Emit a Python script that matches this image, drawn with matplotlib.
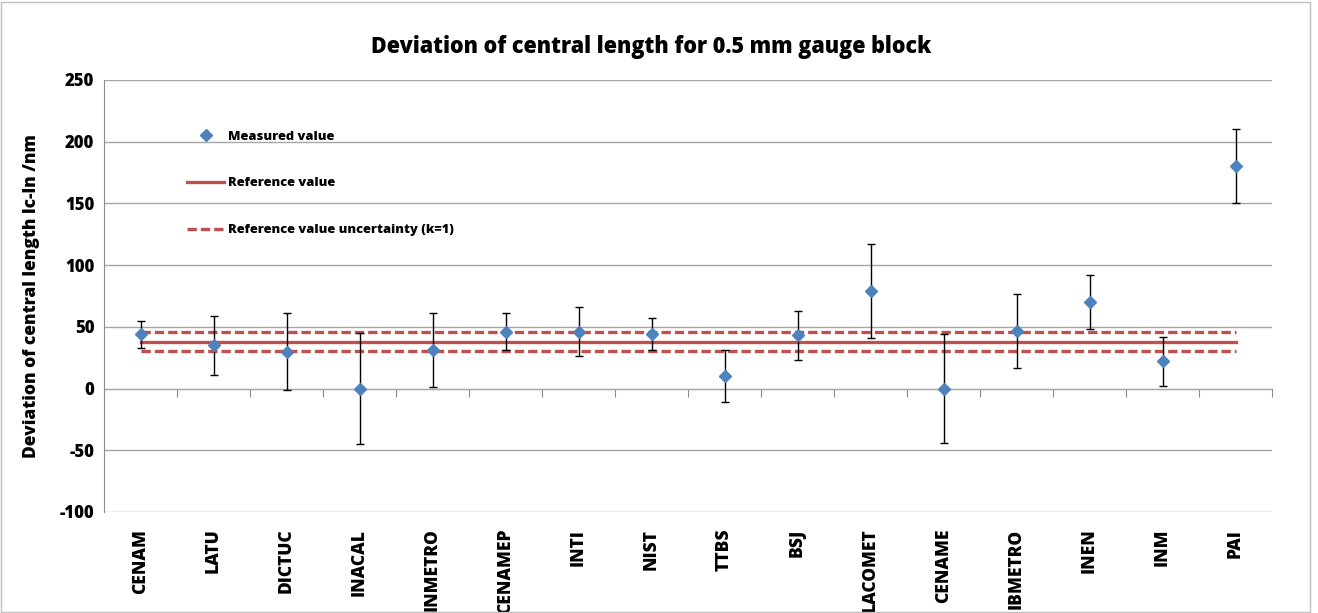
import matplotlib
matplotlib.use("Agg")
import matplotlib.pyplot as plt
import numpy as np
from matplotlib.patches import Rectangle

labs = ["CENAM", "LATU", "DICTUC", "INACAL", "INMETRO", "CENAMEP", "INTI", "NIST",
        "TTBS", "BSJ", "LACOMET", "CENAME", "IBMETRO", "INEN", "INM", "PAI"]
measured = [44, 35, 30, 0, 31, 46, 46, 44, 10, 43, 79, 0, 47, 70, 22, 180]
uncert = [11, 24, 31, 45, 30, 15, 20, 13, 21, 20, 38, 44, 30, 22, 20, 30]
ref_value = 38
ref_unc = 7.5
yticks = [-100, -50, 0, 50, 100, 150, 200, 250]

plt.rcParams['font.family'] = ['Open Sans', 'DejaVu Sans']
plt.rcParams['font.weight'] = 'bold'
W = 800

fig = plt.figure(figsize=(13.18, 6.13), dpi=100)
ax = fig.add_axes([104/1318, 101/613, (1272-104)/1318, (512-80)/613])

x = np.arange(len(labs))
ax.set_xlim(-0.5, len(labs) - 0.5)
ax.set_ylim(-100, 250)

ax.plot(x, [ref_value]*len(x), color='#C0504D', lw=2.4, label='Reference value', zorder=2)
ax.plot(x, [ref_value + ref_unc]*len(x), color='#C0504D', lw=2.4, ls=(0, (2.8, 1.2)),
        label='Reference value uncertainty (k=1)', zorder=2)
ax.plot(x, [ref_value - ref_unc]*len(x), color='#C0504D', lw=2.4, ls=(0, (2.8, 1.2)), zorder=2)
ax.errorbar(x, measured, yerr=uncert, fmt='none', ecolor='black', elinewidth=1.0,
            capsize=3.2, capthick=1.0, zorder=3)
ax.plot(x, measured, ls='none', marker='D', ms=6, color='#4F81BD', label='Measured value', zorder=4)

ax.set_yticks(yticks)
ax.set_yticklabels([str(v) for v in yticks], fontsize=12, fontweight=W)
ax.yaxis.grid(True, color='#A6A6A6', lw=1.0)
ax.set_axisbelow(True)
for s in ['top', 'right', 'bottom']:
    ax.spines[s].set_visible(False)
ax.spines['left'].set_color('#8C8C8C')
ax.tick_params(axis='y', length=0, pad=7)

ax.set_xticks(x)
ax.set_xticklabels(labs, rotation=90, fontsize=12.5, fontweight=W, va='top')
ax.tick_params(axis='x', length=0, pad=12)

sec = ax.secondary_xaxis(100/350)
sec.set_xticks(np.arange(-0.5, len(labs), 1.0))
sec.set_xticklabels([])
sec.tick_params(axis='x', length=6, color='#8C8C8C', direction='out')
sec.spines['bottom'].set_color('#8C8C8C')

ax.set_ylabel('Deviation of central length lc-ln /nm', fontsize=12.5, fontweight=W, labelpad=14)
fig.text(651/1318, 1 - 47/613, 'Deviation of central length for 0.5 mm gauge block',
         fontsize=15.5, fontweight=W, ha='center', va='center')

h, l = ax.get_legend_handles_labels()
order = [2, 0, 1]
leg = ax.legend([h[i] for i in order], [l[i] for i in order], loc='upper left',
                bbox_to_anchor=(0.061, 0.91), frameon=False,
                prop={'size': 9.3, 'weight': W},
                handlelength=2.9, labelspacing=2.7, handletextpad=0.25)

fig.patches.append(Rectangle((0.5/1318, 1/613), 1309/1318, 610/613, transform=fig.transFigure,
                             fill=False, edgecolor='#BFBFBF', lw=1.0))

fig.savefig('out.png', dpi=100)
